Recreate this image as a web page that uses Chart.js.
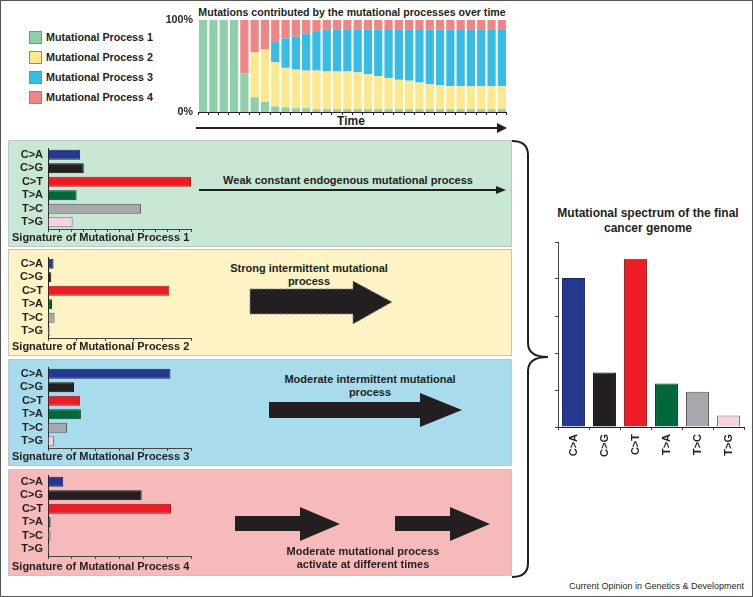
<!DOCTYPE html>
<html>
<head>
<meta charset="utf-8">
<script src="https://cdn.jsdelivr.net/npm/chart.js@4.4.1/dist/chart.umd.min.js"></script>
<style>
  body { margin: 0; background: #fff; }
  #fig { position: relative; width: 753px; height: 597px; background: #fff; overflow: hidden;
         font-family: "Liberation Sans", Arial, sans-serif; color: #231f20; }
  #frame { position: absolute; left: 0; top: 0; width: 751px; height: 595px; border: 1px solid #555; pointer-events: none; }
  .t { position: absolute; white-space: nowrap; font-weight: bold; font-size: 11px; line-height: 13px; }
  .c { transform: translate(-50%, -50%); text-align: center; }
  .panel { position: absolute; left: 8px; width: 504px; height: 107px; box-sizing: border-box; border: 1px solid #c4c4c4; }
  .sw { position: absolute; left: 29px; width: 13px; height: 13px; box-sizing: border-box; border: 1px solid #8a8a8a; }
  canvas { position: absolute; }
  svg { position: absolute; left: 0; top: 0; }
</style>
</head>
<body>
<div id="fig">
  <div class="panel" style="top:140px;background:#c9e7d5"></div>
  <div class="panel" style="top:249px;background:#fdf3c4"></div>
  <div class="panel" style="top:359px;background:#a8dced"></div>
  <div class="panel" style="top:469px;background:#f7baba"></div>

  <!-- legend -->
  <div class="sw" style="top:31px;background:#8fd0aa"></div>
  <div class="sw" style="top:51px;background:#fce88e"></div>
  <div class="sw" style="top:71px;background:#37bde5"></div>
  <div class="sw" style="top:91px;background:#f18585"></div>
  <div class="t" style="left:46px;top:31px;font-size:10.7px">Mutational Process 1</div>
  <div class="t" style="left:46px;top:51px;font-size:10.7px">Mutational Process 2</div>
  <div class="t" style="left:46px;top:71px;font-size:10.7px">Mutational Process 3</div>
  <div class="t" style="left:46px;top:91px;font-size:10.7px">Mutational Process 4</div>

  <div class="t c" style="left:352px;top:12px;font-size:10.6px">Mutations contributed by the mutational processes over time</div>
  <div class="t c" style="left:351px;top:121px;font-size:12px">Time</div>

  <canvas id="timeChart" width="345" height="106" style="left:162px;top:14px"></canvas>

  <canvas id="sig1" width="187" height="90" style="left:8px;top:144px"></canvas>
  <canvas id="sig2" width="187" height="90" style="left:8px;top:253px"></canvas>
  <canvas id="sig3" width="187" height="90" style="left:8px;top:363px"></canvas>
  <canvas id="sig4" width="187" height="90" style="left:8px;top:471px"></canvas>

  <div class="t" style="left:12px;top:231px">Signature of Mutational Process 1</div>
  <div class="t" style="left:12px;top:340px">Signature of Mutational Process 2</div>
  <div class="t" style="left:12px;top:450px">Signature of Mutational Process 3</div>
  <div class="t" style="left:12px;top:560px">Signature of Mutational Process 4</div>

  <div class="t c" style="left:348px;top:180px">Weak constant endogenous mutational process</div>
  <div class="t c" style="left:309px;top:275px">Strong intermittent mutational<br>process</div>
  <div class="t c" style="left:370px;top:386px">Moderate intermittent mutational<br>process</div>
  <div class="t c" style="left:363px;top:558px">Moderate mutational process<br>activate at different times</div>

  <div class="t c" style="left:648px;top:221px;font-size:12px;line-height:15px">Mutational spectrum of the final<br>cancer genome</div>
  <canvas id="spectrum" width="194" height="231" style="left:554px;top:236px"></canvas>

  <div class="t" style="right:9px;top:580px;font-weight:normal;font-size:9px">Current Opinion in Genetics &amp; Development</div>

  <svg width="753" height="597">
    <!-- time arrow -->
    <line x1="196" y1="128" x2="500" y2="128" stroke="#231f20" stroke-width="2"/>
    <polygon points="497,123 507,128 497,133" fill="#231f20"/>
    <!-- panel 1 arrow -->
    <line x1="199" y1="190" x2="498" y2="190" stroke="#231f20" stroke-width="2"/>
    <polygon points="496,186 506,190 496,194" fill="#231f20"/>
    <!-- panel 2 arrow -->
    <polygon points="250,289 353,289 353,281 392,302 353,324 353,314 250,314" fill="#231f20" stroke="#8a8a8a" stroke-width="1" stroke-dasharray="3 2"/>
    <!-- panel 3 arrow -->
    <polygon points="269,402 420,402 420,393 462,410 420,427 420,418 269,418" fill="#231f20"/>
    <!-- panel 4 arrows -->
    <polygon points="235,516 300,516 300,507 340,524 300,541 300,531 235,531" fill="#231f20"/>
    <polygon points="395,516 450,516 450,507 490,524 450,541 450,531 395,531" fill="#231f20"/>
    <!-- bracket -->
    <path d="M512,141 Q528,141 528,155 L528,343 Q528,357 548,357 Q528,357 528,371 L528,563 Q528,577 512,577" fill="none" stroke="#231f20" stroke-width="2"/>
  </svg>
  <div id="frame"></div>
</div>

<script>
// ---- data ----
const timePoints = ['1','2','3','4','5','6','7','8','9','10','11','12','13','14','15',
                    '16','17','18','19','20','21','22','23','24','25','26','27','28','29','30'];
const process1 = [100,100,100,100,42,16,11,6,5,4,4,3,3,3,3,3,3,3,3,3,3,3,3,3,3,3,3,3,3,3];
const process2 = [0,0,0,0,0,49,57,48,43,42,41,42,41,41,41,40,38,36,34,32,31,29,27,26,25,25,25,25,25,25];
const process3 = [0,0,0,0,0,0,0,22,32,36,40,42,45,46,46,47,49,51,53,55,56,58,60,61,62,62,62,62,62,62];
const process4 = [0,0,0,0,58,35,32,24,20,18,15,13,11,10,10,10,10,10,10,10,10,10,10,10,10,10,10,10,10,10];

const mutationTypes = ['C>A','C>G','C>T','T>A','T>C','T>G'];
const signature1 = [9.0, 10.0, 40.0, 8.0, 26.0, 6.9];
const signature2 = [3.9, 2.3, 84.8, 2.8, 4.6, 1.6];
const signature3 = [51.4, 10.9, 13.4, 13.8, 8.0, 2.5];
const signature4 = [6.4, 39.3, 51.6, 1.1, 1.1, 0.6];
const finalSpectrum = [32.2, 11.8, 36.4, 9.4, 7.6, 2.5];

const signatureMax = [40, 100, 60, 60];
const signatureTickCount = [13, 6, 7, 7];
const spectrumMax = 40;
const spectrumTickCount = 6;
const timeTickLabels = [0, 100];

// ---- styles ----
const typeColors = ['#24388f', '#231f20', '#ec1c24', '#00683a', '#a6a8ab', '#f8d1e3'];
const typeBorders = ['#1a2460', '#111', '#9a1a1e', '#00461f', '#555', '#777'];
const processColors = ['#8fd0aa', '#fce88e', '#37bde5', '#f18585'];
const ink = '#231f20';
const boldFont = { family: '"Liberation Sans", Arial, sans-serif', size: 11, weight: 'bold' };

Chart.defaults.font.family = '"Liberation Sans", Arial, sans-serif';
Chart.defaults.color = ink;

// fixed axis size, and no extra room for half labels at the ends
function fixSize(w, h) {
  return s => {
    if (w !== null) s.width = w;
    if (h !== null) s.height = h;
    s.paddingTop = 0; s.paddingBottom = 0;
    s.paddingLeft = 0; s.paddingRight = 0;
  };
}

// ---- stacked chart over time ----
new Chart(document.getElementById('timeChart'), {
  type: 'bar',
  data: {
    labels: timePoints,
    datasets: [process1, process2, process3, process4].map((d, i) => ({
      label: 'Mutational Process ' + (i + 1),
      data: d,
      backgroundColor: processColors[i],
      borderWidth: 0
    }))
  },
  options: {
    responsive: false,
    animation: false,
    devicePixelRatio: 1,
    layout: { padding: { top: 6, right: 0, left: 0, bottom: 0 } },
    categoryPercentage: 0.8,
    barPercentage: 1,
    plugins: { legend: { display: false }, tooltip: { enabled: false } },
    scales: {
      x: {
        stacked: true,
        ticks: { display: false },
        grid: { display: true, drawOnChartArea: false, offset: true, tickLength: 3, color: ink },
        border: { display: true, color: ink, width: 1 },
        afterFit: fixSize(null, 8)
      },
      y: {
        stacked: true,
        min: 0,
        max: 100,
        afterBuildTicks: s => { s.ticks = timeTickLabels.map(v => ({ value: v })); },
        ticks: { font: { ...boldFont, size: 10.7 }, color: ink, padding: 5, callback: v => v + '%' },
        grid: { display: false, drawTicks: false, tickLength: 0 },
        border: { display: false },
        afterFit: fixSize(36, null)
      }
    }
  }
});

// ---- signature charts ----
function signatureChart(id, values, max, count) {
  new Chart(document.getElementById(id), {
    type: 'bar',
    data: {
      labels: mutationTypes,
      datasets: [{
        data: values,
        backgroundColor: typeColors,
        borderColor: typeBorders,
        borderWidth: 1,
        borderSkipped: 'start'
      }]
    },
    options: {
      indexAxis: 'y',
      responsive: false,
      animation: false,
      devicePixelRatio: 1,
      layout: { padding: { top: 4, right: 4, left: 0, bottom: 0 } },
      categoryPercentage: 0.75,
      barPercentage: 1,
      plugins: { legend: { display: false }, tooltip: { enabled: false } },
      scales: {
        x: {
          min: 0,
          max: max,
          ticks: { display: false, count: count },
          grid: { display: true, drawOnChartArea: false, tickLength: 3, color: '#444' },
          border: { display: true, color: '#444', width: 1 },
          afterFit: fixSize(null, 5)
        },
        y: {
          ticks: { font: boldFont, color: ink, padding: 5, autoSkip: false },
          grid: { display: false, drawTicks: false, tickLength: 0 },
          border: { display: true, color: ink, width: 1 },
          afterFit: fixSize(40, null)
        }
      }
    }
  });
}

signatureChart('sig1', signature1, signatureMax[0], signatureTickCount[0]);
signatureChart('sig2', signature2, signatureMax[1], signatureTickCount[1]);
signatureChart('sig3', signature3, signatureMax[2], signatureTickCount[2]);
signatureChart('sig4', signature4, signatureMax[3], signatureTickCount[3]);

// ---- final spectrum ----
new Chart(document.getElementById('spectrum'), {
  type: 'bar',
  data: {
    labels: mutationTypes,
    datasets: [{
      data: finalSpectrum,
      backgroundColor: typeColors,
      borderColor: typeBorders,
      borderWidth: 1,
      borderSkipped: 'start'
    }]
  },
  options: {
    responsive: false,
    animation: false,
    devicePixelRatio: 1,
    layout: { padding: { top: 6, right: 4, left: 0, bottom: 0 } },
    categoryPercentage: 0.74,
    barPercentage: 1,
    plugins: { legend: { display: false }, tooltip: { enabled: false } },
    scales: {
      x: {
        ticks: { font: boldFont, color: ink, minRotation: 90, maxRotation: 90, autoSkip: false, padding: 4 },
        grid: { display: true, drawOnChartArea: false, offset: true, tickLength: 3, color: '#444' },
        border: { display: true, color: ink, width: 1 },
        afterFit: fixSize(null, 40)
      },
      y: {
        min: 0,
        max: spectrumMax,
        ticks: { display: false, count: spectrumTickCount },
        grid: { display: true, drawOnChartArea: false, tickLength: 3, color: '#444' },
        border: { display: true, color: '#444', width: 1 },
        afterFit: fixSize(4, null)
      }
    }
  }
});
</script>
</body>
</html>
